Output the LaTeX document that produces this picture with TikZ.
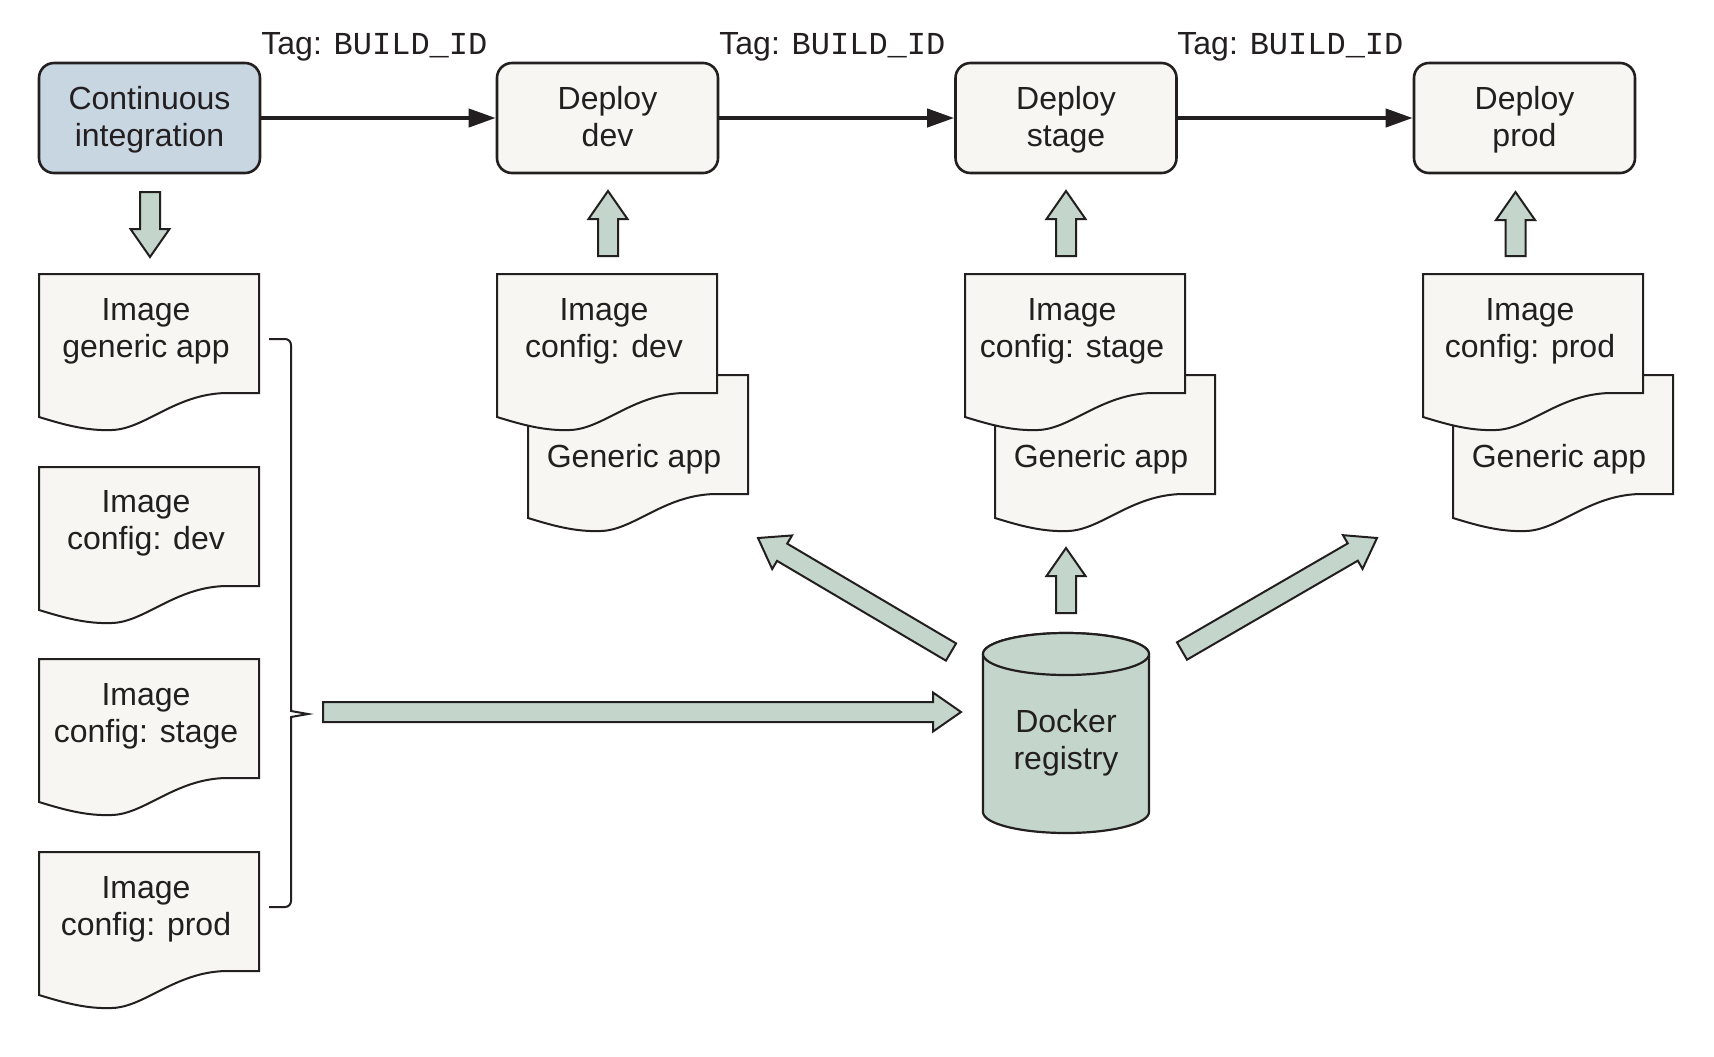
\documentclass[tikz,border=0pt]{standalone}
\usepackage{fontspec}
\setmainfont{Liberation Sans}
\setmonofont{Liberation Mono}
\usetikzlibrary{arrows.meta,calc}
\definecolor{ink}{RGB}{35,31,32}
\definecolor{ciblue}{RGB}{200,214,226}
\definecolor{paper}{RGB}{247,246,242}
\definecolor{sage}{RGB}{196,214,203}

\tikzset{
  basefont/.style={font=\fontsize{16pt}{18.5pt}\selectfont, text=ink},
  deploybox/.style={draw=ink, line width=1.3pt, rounded corners=7.5pt, fill=paper,
    minimum width=110.5pt, minimum height=55pt, inner sep=0pt, align=center, basefont},
  docline/.style={draw=ink, line width=1pt, fill=paper, line join=miter},
  doctext/.style={basefont, align=center, inner sep=0pt},
  fat/.style={draw=ink, line width=1pt, fill=sage, line join=miter},
  flow/.style={draw=ink, line width=2pt, -{Triangle[length=13.5pt,width=9pt]}},
  taglabel/.style={basefont, anchor=base west, inner sep=0pt},
  bracket/.style={draw=ink, line width=1pt},
}

% document shape: left, top (px)
\newcommand{\docpath}[2]{%
  \draw[docline] (#1,#2) -- ({#1+220},#2) -- ({#1+220},{#2+119}) -- ({#1+187},{#2+119})
    .. controls ({#1+136},{#2+120}) and ({#1+106},{#2+155}) .. ({#1+73},{#2+156})
    .. controls ({#1+48},{#2+157}) and ({#1+26},{#2+151}) .. (#1,{#2+143}) -- cycle;}

% block arrow from tail coordinate to tip coordinate
\newcommand{\fatarrow}[2]{%
  \coordinate (fa-hb) at ($(#2)!14pt!(#1)$);
  \draw[fat] ($(#1)!5pt!90:(#2)$) -- ($(fa-hb)!5pt!90:(#2)$) -- ($(fa-hb)!9.75pt!90:(#2)$)
    -- (#2) -- ($(fa-hb)!9.75pt!-90:(#2)$) -- ($(fa-hb)!5pt!-90:(#2)$)
    -- ($(#1)!5pt!-90:(#2)$) -- cycle;}

\newcommand{\dsc}{\vphantom{gp}}
\newcommand{\tsc}{\rule{0pt}{13.4pt}}

\begin{document}
\begin{tikzpicture}[x=0.5pt, y=-0.5pt]
\fill[white] (0,0) rectangle (1714,1056);
\useasboundingbox (0,0) rectangle (1714,1056);

% top row boxes
\node[deploybox, fill=ciblue] (ci) at (149.5,118) {\tsc Continuous\\integration\dsc};
\node[deploybox] (dev) at (607.5,118) {\tsc Deploy\\dev\dsc};
\node[deploybox] (stage) at (1066,118) {\tsc Deploy\\stage\dsc};
\node[deploybox] (prod) at (1524.5,118) {\tsc Deploy\\prod\dsc};

\draw[flow] (ci) -- (dev);
\draw[flow] (dev) -- (stage);
\draw[flow] (stage) -- (prod);

\node[taglabel] (tag1) at (261,54) {Tag: {\fontsize{16pt}{18pt}\ttfamily BUILD\_ID}};
\node[taglabel] (tag2) at (719,54) {Tag: {\fontsize{16pt}{18pt}\ttfamily BUILD\_ID}};
\node[taglabel] (tag3) at (1177,54) {Tag: {\fontsize{16pt}{18pt}\ttfamily BUILD\_ID}};

% left column documents
\docpath{39}{274}
\node[doctext] (lgen) at (146,331) {Image\\generic app\dsc};
\docpath{39}{467}
\node[doctext] (ldev) at (146,523) {Image\\config: dev\dsc};
\docpath{39}{659}
\node[doctext] (lstage) at (146,716) {Image\\config: stage\dsc};
\docpath{39}{852}
\node[doctext] (lprod) at (146,909) {Image\\config: prod\dsc};

% dev column
\docpath{528}{375}
\node[doctext, anchor=base] (devapp) at (634,467) {Generic app};
\docpath{497}{274}
\node[doctext] (devcfg) at (604,331) {Image\\config: dev\dsc};

% stage column
\docpath{995}{375}
\node[doctext, anchor=base] (stageapp) at (1101,467) {Generic app};
\docpath{965}{274}
\node[doctext] (stagecfg) at (1072,331) {Image\\config: stage\dsc};

% prod column
\docpath{1453}{375}
\node[doctext, anchor=base] (prodapp) at (1559,467) {Generic app};
\docpath{1423}{274}
\node[doctext] (prodcfg) at (1530,331) {Image\\config: prod\dsc};

% bracket
\draw[bracket, rounded corners=3pt] (269,339) -- (291,339) -- (291,711);
\draw[bracket] (291,709) -- (291,711) -- (308,714) -- (291,717) -- (291,719);
\draw[bracket, rounded corners=3pt] (291,717) -- (291,907) -- (269,907);

% Docker registry cylinder
\draw[draw=ink, line width=1.1pt, fill=sage] (983,654) -- (983,812)
  arc[start angle=180, end angle=0, x radius=83, y radius=21] -- (1149,654)
  arc[start angle=0, end angle=-180, x radius=83, y radius=21] -- cycle;
\draw[draw=ink, line width=1.1pt, fill=sage] (1066,654) ellipse [x radius=83, y radius=21];
\node[doctext] (reg) at (1066,743) {Docker\\registry};

% block arrows
\coordinate (ciS) at (150,192);   \coordinate (ciT) at (150,257);
\coordinate (devS) at (608,256);  \coordinate (devT) at (608,191);
\coordinate (stS) at (1066,256);  \coordinate (stT) at (1066,191);
\coordinate (prS) at (1515.5,256); \coordinate (prT) at (1515.5,192);
\coordinate (regS) at (1066,613); \coordinate (regT) at (1066,548);
\coordinate (ldS) at (951,652);   \coordinate (ldT) at (758,538);
\coordinate (rdS) at (1182,651);  \coordinate (rdT) at (1377,538);
\coordinate (hS) at (323,712);    \coordinate (hT) at (961,712);

\fatarrow{ciS}{ciT}
\fatarrow{devS}{devT}
\fatarrow{stS}{stT}
\fatarrow{prS}{prT}
\fatarrow{regS}{regT}
\fatarrow{ldS}{ldT}
\fatarrow{rdS}{rdT}
\fatarrow{hS}{hT}
\end{tikzpicture}
\end{document}
